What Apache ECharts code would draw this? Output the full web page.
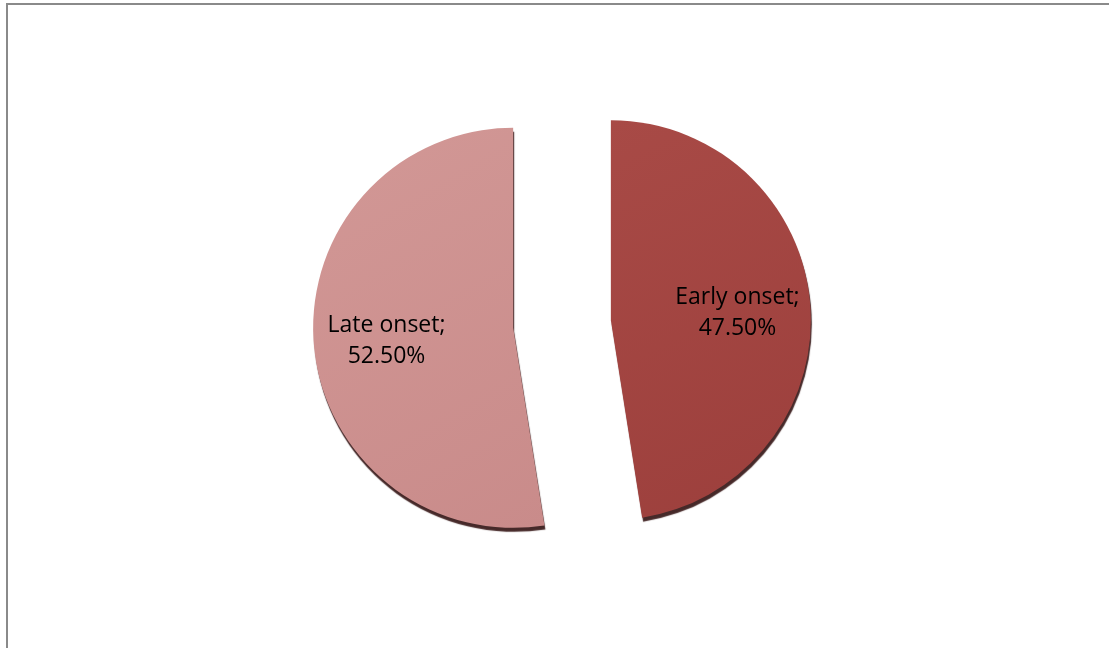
<!DOCTYPE html>
<html>
<head>
<meta charset="utf-8">
<script src="https://cdn.jsdelivr.net/npm/echarts@6/dist/echarts.min.js"></script>
<style>
  html, body { margin: 0; padding: 0; background: #ffffff; }
  #frame { position: absolute; left: 6px; top: 3px; width: 1103px; height: 645px;
           border-top: 2px solid #8a8a8a; border-left: 2px solid #8a8a8a; box-sizing: border-box; }
  #chart { position: absolute; left: 0; top: 0; width: 1109px; height: 648px; }
</style>
</head>
<body>
<div id="frame"></div>
<div id="chart"></div>
<script>
const categories = ['Early onset', 'Late onset'];
const values = [47.5, 52.5];
const colors = [
  ['#A84A46', '#9C3F3C'],
  ['#D29896', '#C98B8A']
];

const chart = echarts.init(document.getElementById('chart'), null, { renderer: 'canvas' });

const sliceData = categories.map((name, i) => ({
  name: name,
  value: values[i],
  selected: true,
  itemStyle: {
    color: new echarts.graphic.LinearGradient(0, 0, 1, 1, [
      { offset: 0, color: colors[i][0] },
      { offset: 1, color: colors[i][1] }
    ]),
    shadowColor: 'rgba(50, 18, 18, 0.9)',
    shadowBlur: 1,
    shadowOffsetX: 1,
    shadowOffsetY: 4
  }
}));

const labelData = categories.map((name, i) => ({
  name: name,
  value: values[i],
  selected: true
}));

chart.setOption({
  animation: false,
  backgroundColor: 'transparent',
  series: [
    {
      type: 'pie',
      center: [562, 324],
      radius: [0, 200],
      startAngle: 90,
      clockwise: true,
      selectedMode: 'multiple',
      selectedOffset: 49,
      silent: true,
      label: { show: false },
      labelLine: { show: false },
      emphasis: { disabled: true },
      data: sliceData
    },
    {
      type: 'pie',
      center: [562, 327],
      radius: [48, 200],
      startAngle: 90,
      clockwise: true,
      selectedMode: 'multiple',
      selectedOffset: 49,
      silent: true,
      itemStyle: { color: 'rgba(0,0,0,0)' },
      emphasis: { disabled: true },
      labelLine: { show: false },
      label: {
        show: true,
        position: 'inside',
        color: '#000000',
        fontFamily: 'Open Sans',
        fontSize: 23,
        lineHeight: 31,
        align: 'center',
        formatter: p => p.name + ';\n' + p.value.toFixed(2) + '%'
      },
      data: labelData
    }
  ]
});
</script>
</body>
</html>
